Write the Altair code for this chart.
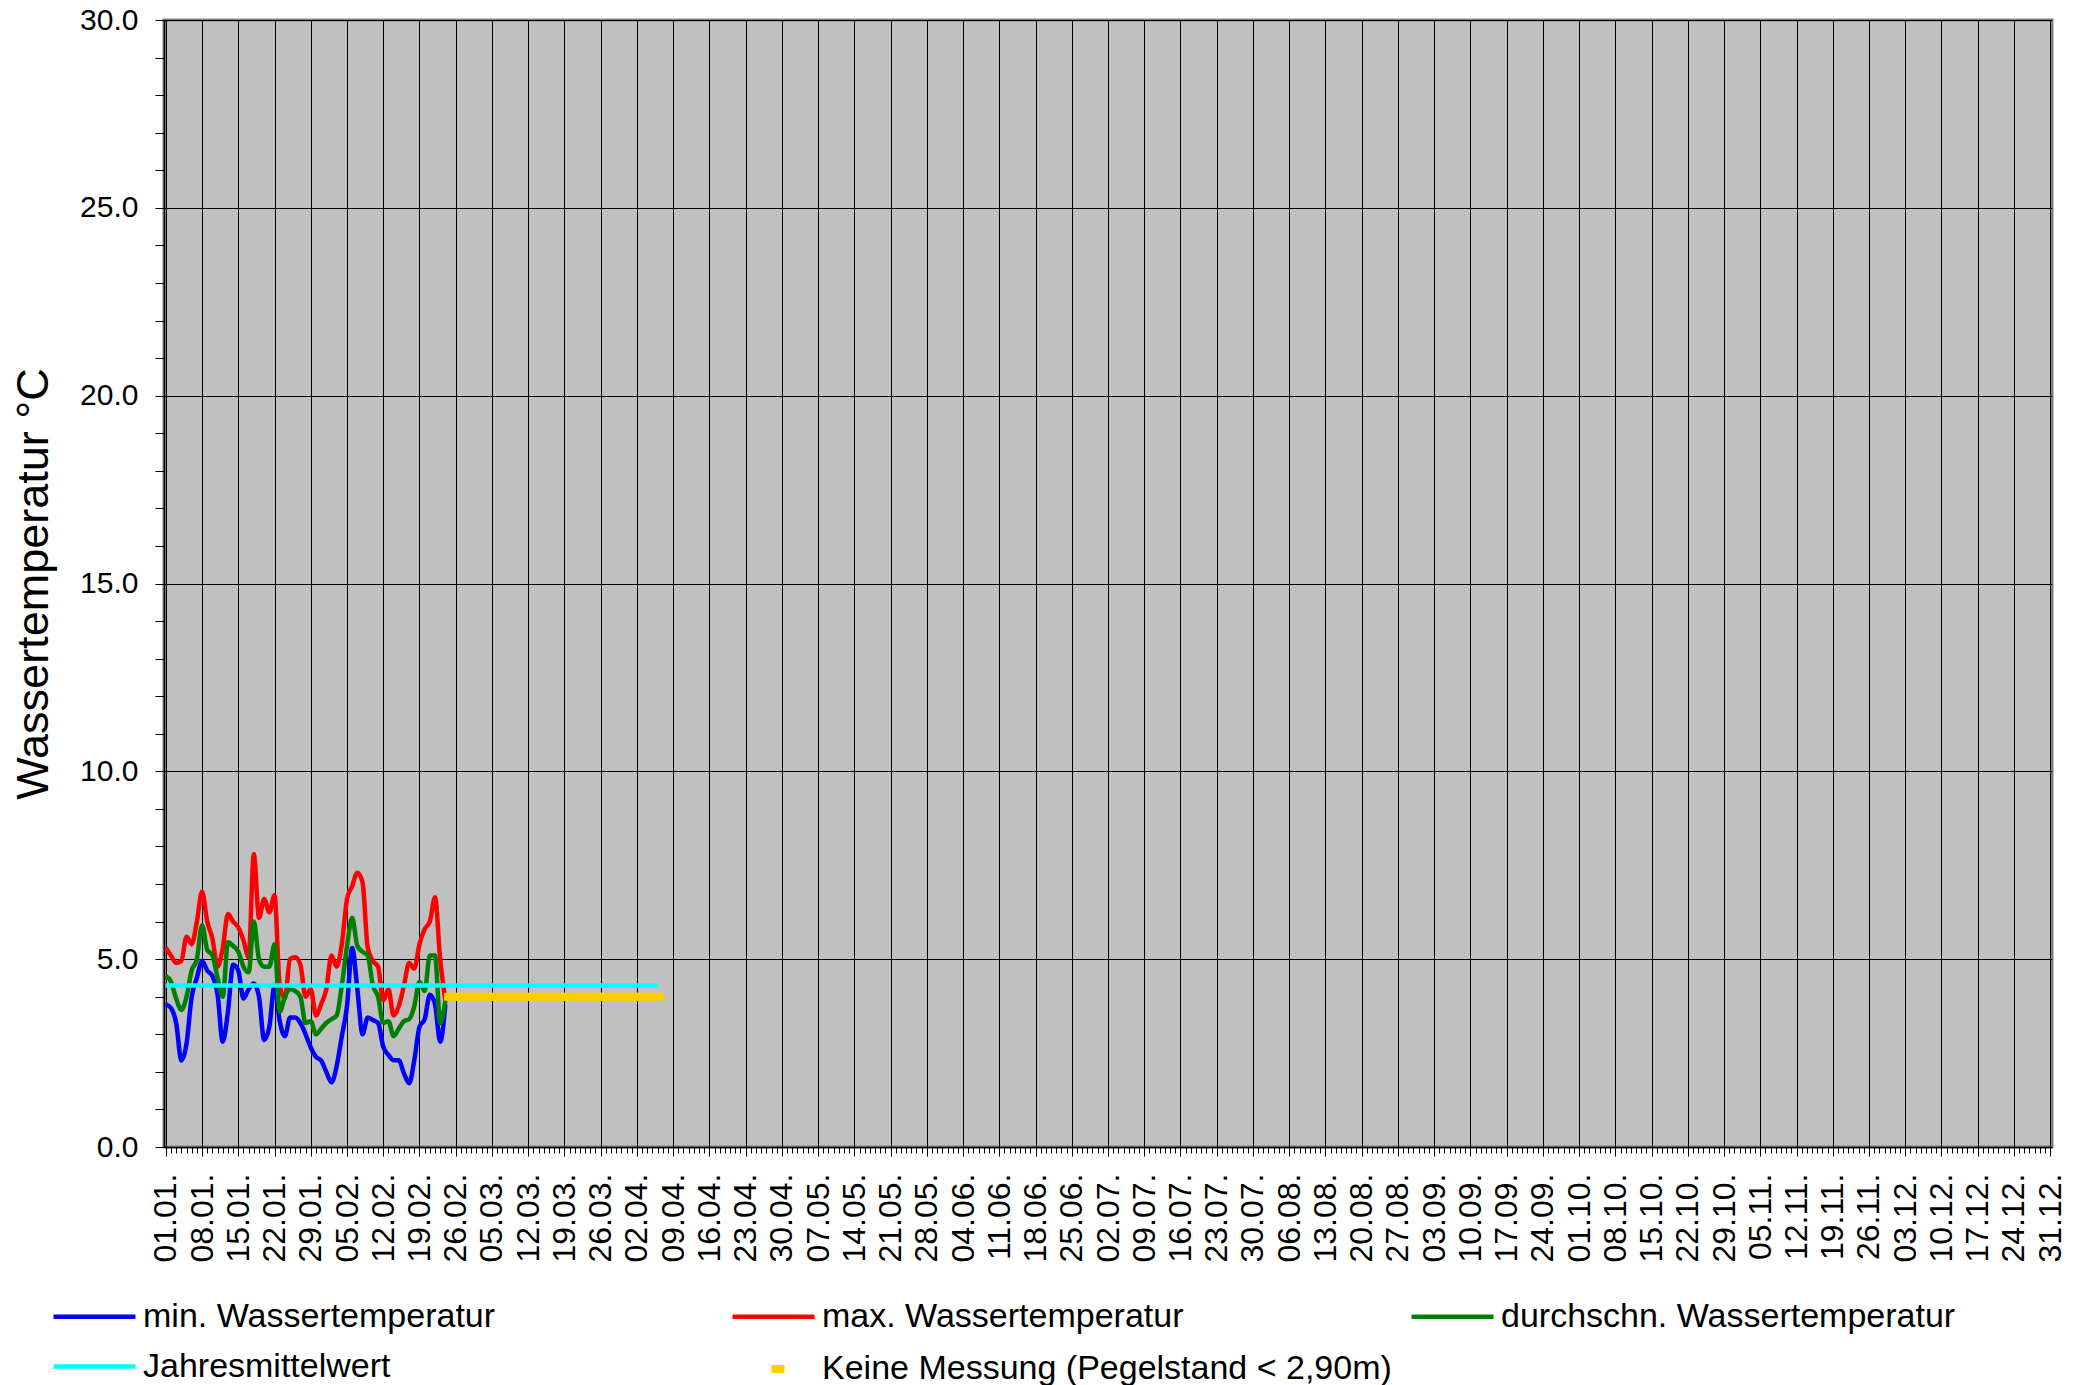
import json
import altair as alt
import pandas as pd

FONT = "Liberation Sans"

# ---------------- data ----------------
title_text = "Jahresmittelwert 4.3°C"

measured_names = [
    "min. Wassertemperatur",
    "max. Wassertemperatur",
    "durchschn. Wassertemperatur",
]
measured_colors = ["#0000FF", "#FF0000", "#008000"]

mean_name = "Jahresmittelwert"
mean_color = "#00FFFF"

no_meas_name = "Keine Messung (Pegelstand < 2,90m)"
no_meas_color = "#FFCC00"

# day index (0 = 01.01.) of measured days
measured_days = list(range(55))

min_temp = [3.8, 3.7, 3.3, 2.3, 2.75, 4.0, 4.5, 4.95, 4.7, 4.55,
            4.05, 2.8, 3.6, 4.85, 4.7, 3.95, 4.2, 4.35, 4.0, 2.85,
            3.2, 4.3, 3.35, 2.95, 3.45, 3.45, 3.3, 3.0, 2.65, 2.4,
            2.3, 2.0, 1.72, 2.15, 2.95, 3.75, 5.3, 4.2, 3.0, 3.45,
            3.38, 3.3, 2.67, 2.45, 2.31, 2.31, 1.96, 1.7, 2.31, 3.2,
            3.4, 4.05, 3.8, 2.8, 3.8]

max_temp = [5.3, 5.1, 4.9, 4.95, 5.6, 5.4, 6.0, 6.8, 6.0, 5.55,
            4.8, 5.3, 6.2, 6.0, 5.85, 5.5, 5.05, 7.8, 6.1, 6.6,
            6.25, 6.7, 4.3, 3.95, 5.0, 5.05, 4.85, 4.0, 4.2, 3.5,
            3.8, 4.2, 5.1, 4.8, 5.4, 6.6, 6.95, 7.3, 7.05, 5.3,
            4.95, 4.8, 3.9, 4.2, 3.5, 3.75, 4.3, 4.9, 4.75, 5.4,
            5.8, 6.0, 6.65, 5.0, 3.9]

avg_temp = [4.55, 4.4, 3.95, 3.65, 4.0, 4.7, 5.0, 5.9, 5.25, 5.1,
            4.5, 4.0, 5.45, 5.35, 5.2, 4.8, 4.65, 6.0, 5.0, 4.8,
            4.8, 5.4, 3.6, 4.0, 4.2, 4.15, 4.0, 3.3, 3.35, 3.0,
            3.15, 3.3, 3.4, 3.5, 4.3, 5.35, 6.1, 5.35, 5.2, 5.1,
            4.3, 4.0, 3.3, 3.35, 2.95, 3.15, 3.35, 3.4, 3.75, 4.4,
            4.15, 5.1, 5.1, 3.3, 3.9]

annual_mean_value = 4.3
annual_mean_days = [0, 95]

no_meas_value = 4.0
no_meas_first_day = 55
no_meas_last_day = 95

week_labels = ["01.01.", "08.01.", "15.01.", "22.01.", "29.01.", "05.02.", "12.02.",
               "19.02.", "26.02.", "05.03.", "12.03.", "19.03.", "26.03.", "02.04.",
               "09.04.", "16.04.", "23.04.", "30.04.", "07.05.", "14.05.", "21.05.",
               "28.05.", "04.06.", "11.06.", "18.06.", "25.06.", "02.07.", "09.07.",
               "16.07.", "23.07.", "30.07.", "06.08.", "13.08.", "20.08.", "27.08.",
               "03.09.", "10.09.", "17.09.", "24.09.", "01.10.", "08.10.", "15.10.",
               "22.10.", "29.10.", "05.11.", "12.11.", "19.11.", "26.11.", "03.12.",
               "10.12.", "17.12.", "24.12.", "31.12."]

y_ticks = list(range(0, 31))
x_ticks = list(range(0, 365))

# ---------------- tables ----------------
rows = []
for name, vals in zip(measured_names, [min_temp, max_temp, avg_temp]):
    for d, v in zip(measured_days, vals):
        rows.append({"series": name, "day": d, "value": v})
lines_df = pd.DataFrame(rows)

mean_df = pd.DataFrame({
    "series": mean_name,
    "day": annual_mean_days,
    "value": annual_mean_value,
})

nm_df = pd.DataFrame({
    "series": no_meas_name,
    "day": list(range(no_meas_first_day, no_meas_last_day + 1)),
    "value": no_meas_value,
})

# ---------------- scales / axes ----------------
W, H = 1888, 1127

x_scale = alt.Scale(domain=[-0.35, 364.35], nice=False, zero=False)
y_scale = alt.Scale(domain=[0, 30], nice=False)

x_label_expr = ("datum.value % 7 === 0 ? " + json.dumps(week_labels) +
                "[datum.value / 7] : ''")

x_axis = alt.Axis(
    values=x_ticks, labelExpr=x_label_expr, labelAngle=270,
    labelFont=FONT, labelFontSize=32, labelColor="black",
    labelPadding=17, labelOverlap=False, labelBound=False, labelFlush=False,
    tickColor="black", tickWidth=1,
    tickSize={"condition": {"test": "datum.value % 7 === 0", "value": 9}, "value": 6},
    grid=True, gridColor="black", gridWidth=1,
    gridOpacity={"condition": {"test": "datum.value % 7 === 0", "value": 1}, "value": 0},
    domainColor="black", domainWidth=1.5, title=None,
)

y_axis = alt.Axis(
    values=y_ticks,
    labelExpr="datum.value % 5 === 0 ? format(datum.value, '.1f') : ''",
    labelFont=FONT, labelFontSize=30, labelColor="black", labelPadding=17,
    labelOverlap=False, labelBound=False, labelFlush=False,
    tickColor="black", tickWidth=1, tickSize=9,
    grid=True, gridColor="black", gridWidth=1,
    gridOpacity={"condition": {"test": "datum.value % 5 === 0", "value": 1}, "value": 0},
    domainColor="black", domainWidth=1.5,
    title="Wassertemperatur °C", titleFont=FONT, titleFontSize=45,
    titleFontWeight="normal", titleColor="black", titleAngle=270,
    titleAlign="center", titleBaseline="bottom", titleX=-108, titleY=H / 2,
)

line_legend_common = dict(
    title=None, symbolType="stroke", symbolSize=6724, symbolStrokeWidth=4.5,
    labelFont=FONT, labelFontSize=34, labelColor="black", labelOffset=5,
    labelLimit=1000, padding=0,
)

measured_legend = alt.Legend(
    orient="none", direction="horizontal", legendX=-113, legendY=1253,
    columns=3, columnPadding=125, gridAlign="all", **line_legend_common,
)

mean_legend = alt.Legend(
    orient="none", direction="horizontal", legendX=-113, legendY=1303,
    **line_legend_common,
)

rect_path = "M-1,-0.6L1,-0.6L1,0.6L-1,0.6Z"

nm_legend = alt.Legend(
    orient="none", legendX=597, legendY=1332, title=None,
    symbolType=rect_path, symbolSize=169, symbolStrokeWidth=0,
    symbolOpacity=1,
    labelFont=FONT, labelFontSize=34, labelColor="black", labelOffset=27,
    labelLimit=1000, padding=0,
)

measured_scale = alt.Scale(domain=measured_names, range=measured_colors)

base = alt.Chart(lines_df)


def measured_layer(name):
    return base.transform_filter(alt.datum.series == name).mark_line(
        strokeWidth=4.5, interpolate="monotone"
    ).encode(
        x=alt.X("day:Q", scale=x_scale, axis=x_axis),
        y=alt.Y("value:Q", scale=y_scale, axis=y_axis),
        color=alt.Color("series:N", scale=measured_scale, legend=measured_legend),
    )


layers = [measured_layer(nm) for nm in measured_names]

nm_layer = alt.Chart(nm_df).mark_point(
    shape=rect_path, size=169, filled=True, opacity=1, strokeWidth=0
).encode(
    x=alt.X("day:Q", scale=x_scale, axis=x_axis),
    y=alt.Y("value:Q", scale=y_scale, axis=y_axis),
    fill=alt.Fill("series:N",
                  scale=alt.Scale(domain=[no_meas_name], range=[no_meas_color]),
                  legend=nm_legend),
)

mean_layer = alt.Chart(mean_df).mark_line(strokeWidth=4.5).encode(
    x=alt.X("day:Q", scale=x_scale, axis=x_axis),
    y=alt.Y("value:Q", scale=y_scale, axis=y_axis),
    stroke=alt.Stroke("series:N",
                      scale=alt.Scale(domain=[mean_name], range=[mean_color]),
                      legend=mean_legend),
)

chart = alt.layer(*layers, nm_layer, mean_layer).properties(
    width=W, height=H,
    autosize=alt.AutoSizeParams(type="none"),
    padding={"left": 156, "top": 12, "right": 20, "bottom": 238},
    title=alt.TitleParams(title_text, font=FONT, fontSize=40,
                          fontWeight="normal", color="black",
                          anchor="middle", dx=-96, offset=1,
                          baseline="alphabetic"),
    background="white",
).configure_view(
    fill="#C0C0C0", stroke="#808080", strokeWidth=3
)

chart.save("out.html", embed_options={"renderer": "svg", "actions": False})
